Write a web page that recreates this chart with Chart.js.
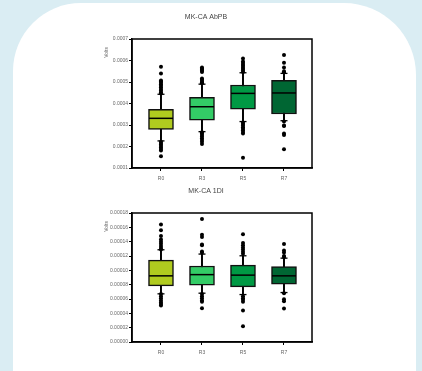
<!DOCTYPE html>
<html>
<head>
<meta charset="utf-8">
<script src="https://cdn.jsdelivr.net/npm/chart.js@4/dist/chart.umd.min.js"></script>
<style>
  html, body { margin: 0; padding: 0; }
  body { width: 422px; height: 371px; background: #daedf3; position: relative; overflow: hidden; }
  #card { position: absolute; left: 13px; top: 3px; width: 403px; height: 440px; background: #fff; border-radius: 68px 72px 0 0; }
  canvas { position: absolute; left: 0; }
  #c1 { top: 0; }
  #c2 { top: 174px; }
</style>
</head>
<body>
<div id="card"></div>
<canvas id="c1" width="422" height="188"></canvas>
<canvas id="c2" width="422" height="188"></canvas>
<script>
// categories
var cats = ['R0', 'R3', 'R5', 'R7'];
var boxColors = ['#b0cb1f', '#33cc66', '#009944', '#006633'];

// MK-CA AbPB
var abpbQ1 = [0.000280, 0.000323, 0.000374, 0.000351];
var abpbMed = [0.000331, 0.000385, 0.000447, 0.000449];
var abpbQ3 = [0.000373, 0.000429, 0.000486, 0.000508];
var abpbLo = [0.000226, 0.000269, 0.000316, 0.000320];
var abpbHi = [0.000443, 0.000490, 0.000543, 0.000540];
var abpbOut = [
    [0.000571, 0.000540, 0.000507, 0.000502, 0.000496, 0.000490, 0.000483, 0.000476, 0.000468, 0.000460, 0.000452, 0.000446,
     0.000222, 0.000216, 0.000209, 0.000202, 0.000195, 0.000188, 0.000181, 0.000155],
    [0.000567, 0.000562, 0.000557, 0.000552, 0.000547, 0.000516, 0.000511, 0.000505, 0.000499, 0.000494,
     0.000266, 0.000260, 0.000253, 0.000246, 0.000238, 0.000230, 0.000222, 0.000212],
    [0.000609, 0.000595, 0.000588, 0.000580, 0.000574, 0.000566, 0.000560, 0.000553, 0.000547,
     0.000312, 0.000305, 0.000298, 0.000290, 0.000283, 0.000276, 0.000268, 0.000260, 0.000148],
    [0.000626, 0.000590, 0.000568, 0.000550, 0.000545,
     0.000316, 0.000298, 0.000295, 0.000260, 0.000253, 0.000187]
];
var abpbTicks = [0.0001, 0.0002, 0.0003, 0.0004, 0.0005, 0.0006, 0.0007];
var abpbTickLabels = ['0.0001', '0.0002', '0.0003', '0.0004', '0.0005', '0.0006', '0.0007'];

// MK-CA 1DI
var diQ1 = [0.0000784, 0.0000793, 0.0000770, 0.0000807];
var diMed = [0.0000923, 0.0000940, 0.0000933, 0.0000923];
var diQ3 = [0.0001143, 0.0001060, 0.0001073, 0.0001054];
var diLo = [0.0000672, 0.0000681, 0.0000662, 0.0000690];
var diHi = [0.0001287, 0.0001227, 0.0001203, 0.0001170];
var diOut = [
    [0.000164, 0.000156, 0.000148, 0.000143, 0.000140, 0.000137, 0.000134, 0.000131, 0.000129,
     0.0000670, 0.0000640, 0.0000610, 0.0000580, 0.0000550, 0.0000530, 0.0000510],
    [0.0001716, 0.0001497, 0.0001465, 0.0001360, 0.0001350, 0.0001264, 0.0001245,
     0.0000670, 0.0000640, 0.0000610, 0.0000580, 0.0000560, 0.0000471],
    [0.0001502, 0.0001380, 0.0001350, 0.0001320, 0.0001290, 0.0001260, 0.0001230,
     0.0000640, 0.0000610, 0.0000590, 0.0000560, 0.0000438, 0.0000219],
    [0.0001367, 0.0001278, 0.0001250, 0.0001200, 0.0001185,
     0.0000680, 0.0000597, 0.0000570, 0.0000466]
];
var diTicks = [0, 0.00002, 0.00004, 0.00006, 0.00008, 0.0001, 0.00012, 0.00014, 0.00016, 0.00018];
var diTickLabels = ['0.00000', '0.00002', '0.00004', '0.00006', '0.00008', '0.00010', '0.00012', '0.00014', '0.00016', '0.00018'];

var FONT = "'Liberation Sans', Arial, sans-serif";

var framePlugin = {
    id: 'frame',
    afterDatasetsDraw: function (chart) {
        var a = chart.chartArea, ctx = chart.ctx;
        ctx.save();
        ctx.strokeStyle = '#000';
        ctx.lineWidth = 1.5;
        ctx.strokeRect(a.left, a.top, a.right - a.left, a.bottom - a.top);
        ctx.translate(a.left - 25, a.top + 8);
        ctx.rotate(-Math.PI / 2);
        ctx.fillStyle = '#666';
        ctx.font = '5px ' + FONT;
        ctx.textAlign = 'right';
        ctx.textBaseline = 'middle';
        ctx.fillText('Volts', 0, 0);
        ctx.restore();
    }
};

function boxChart(id, title, q1, med, q3, lo, hi, out, yMin, yMax, yTicks, yLabels) {
    var boxes = [], whiskers = [], medians = [], caps = [], dots = [];
    for (var i = 0; i < cats.length; i++) {
        boxes.push({ x: i, y: [q1[i], q3[i]] });
        whiskers.push({ x: i, y: [lo[i], hi[i]] });
        medians.push({ x: i, y: med[i] });
        caps.push({ x: i, y: lo[i] });
        caps.push({ x: i, y: hi[i] });
        for (var j = 0; j < out[i].length; j++) {
            dots.push({ x: i, y: out[i][j] });
        }
    }

    return new Chart(document.getElementById(id), {
        type: 'bar',
        data: {
            datasets: [
                {
                    type: 'scatter', data: medians, pointStyle: 'line',
                    pointRadius: 12, borderColor: '#000', pointBorderWidth: 1.5
                },
                {
                    type: 'scatter', data: dots, pointStyle: 'circle',
                    pointRadius: 2, backgroundColor: '#000', borderColor: '#000', pointBorderWidth: 0
                },
                {
                    type: 'scatter', data: caps, pointStyle: 'line',
                    pointRadius: 3.5, borderColor: '#000', pointBorderWidth: 1.3
                },
                {
                    data: boxes, backgroundColor: boxColors, borderColor: '#111',
                    borderWidth: 1.5, borderSkipped: false, barThickness: 25, grouped: false
                },
                {
                    data: whiskers, backgroundColor: '#000', borderWidth: 0,
                    barThickness: 1.3, grouped: false
                }
            ]
        },
        options: {
            responsive: false,
            animation: false,
            events: [],
            layout: { padding: { left: 100, right: 110, top: 0, bottom: 0 } },
            plugins: {
                legend: { display: false },
                tooltip: { enabled: false },
                title: {
                    display: true, text: title, color: '#444',
                    font: { family: FONT, size: 7, weight: 'normal', lineHeight: 1.2 },
                    padding: { top: 12.8, bottom: 17.8 }
                }
            },
            scales: {
                x: {
                    type: 'linear', min: -0.707, max: 3.683, offset: false,
                    afterFit: function (s) { s.height = 20; },
                    afterBuildTicks: function (s) {
                        s.ticks = cats.map(function (c, i) { return { value: i }; });
                    },
                    ticks: {
                        color: '#666', padding: 5, maxRotation: 0,
                        font: { family: FONT, size: 5 },
                        callback: function (v) { return cats[v]; }
                    },
                    grid: { offset: false, drawOnChartArea: false, tickLength: 3, color: '#000' },
                    border: { color: '#000', width: 1.5 }
                },
                y: {
                    min: yMin, max: yMax,
                    afterFit: function (s) { s.width = 32; },
                    afterBuildTicks: function (s) {
                        s.ticks = yTicks.map(function (v) { return { value: v }; });
                    },
                    ticks: {
                        color: '#666', padding: 1,
                        font: { family: FONT, size: 5 },
                        callback: function (v, i) { return yLabels[i]; }
                    },
                    grid: { drawOnChartArea: false, tickLength: 3, color: '#000' },
                    border: { color: '#000', width: 1.5 }
                }
            }
        },
        plugins: [framePlugin]
    });
}

boxChart('c1', 'MK-CA AbPB', abpbQ1, abpbMed, abpbQ3, abpbLo, abpbHi, abpbOut, 0.0001, 0.0007, abpbTicks, abpbTickLabels);
boxChart('c2', 'MK-CA 1DI', diQ1, diMed, diQ3, diLo, diHi, diOut, 0, 0.00018, diTicks, diTickLabels);
</script>
</body>
</html>
